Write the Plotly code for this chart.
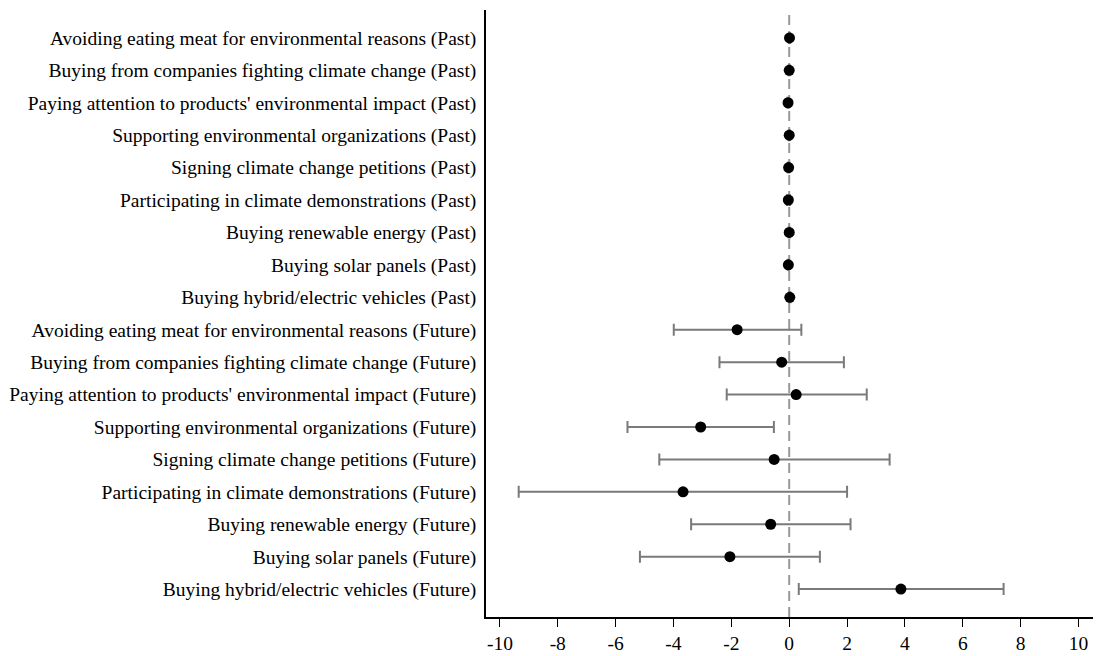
import plotly.graph_objects as go

categories = [
    "Avoiding eating meat for environmental reasons (Past)",
    "Buying from companies fighting climate change (Past)",
    "Paying attention to products' environmental impact (Past)",
    "Supporting environmental organizations (Past)",
    "Signing climate change petitions (Past)",
    "Participating in climate demonstrations (Past)",
    "Buying renewable energy (Past)",
    "Buying solar panels (Past)",
    "Buying hybrid/electric vehicles (Past)",
    "Avoiding eating meat for environmental reasons (Future)",
    "Buying from companies fighting climate change (Future)",
    "Paying attention to products' environmental impact (Future)",
    "Supporting environmental organizations (Future)",
    "Signing climate change petitions (Future)",
    "Participating in climate demonstrations (Future)",
    "Buying renewable energy (Future)",
    "Buying solar panels (Future)",
    "Buying hybrid/electric vehicles (Future)",
]
estimates = [0.01, 0.0, -0.04, 0.0, -0.02, -0.03, 0.0, -0.03, 0.02,
             -1.80, -0.26, 0.24, -3.06, -0.52, -3.67, -0.64, -2.05, 3.86]
ci_low = [-0.01, -0.02, -0.06, -0.02, -0.04, -0.08, -0.02, -0.05, 0.0,
          -3.99, -2.41, -2.16, -5.59, -4.49, -9.35, -3.39, -5.16, 0.33]
ci_high = [0.03, 0.02, -0.02, 0.02, 0.0, 0.02, 0.02, -0.01, 0.04,
           0.42, 1.89, 2.68, -0.53, 3.47, 2.00, 2.12, 1.06, 7.41]
x_ticks = [-10, -8, -6, -4, -2, 0, 2, 4, 6, 8, 10]

err_plus = [h - e for h, e in zip(ci_high, estimates)]
err_minus = [e - l for e, l in zip(estimates, ci_low)]

fig = go.Figure()
fig.add_shape(type="line", x0=0, x1=0, y0=0, y1=1, xref="x", yref="paper",
              line=dict(color="#999999", width=2, dash="10px,6px"), layer="below")
fig.add_trace(go.Scatter(
    x=estimates, y=categories, mode="markers",
    marker=dict(color="black", size=11),
    error_x=dict(type="data", symmetric=False, array=err_plus, arrayminus=err_minus,
                 color="#7a7a7a", thickness=2, width=6),
    showlegend=False,
))

fig.update_layout(
    width=1096, height=656,
    margin=dict(l=486, r=3, t=10, b=39),
    plot_bgcolor="white", paper_bgcolor="white",
    font=dict(family="Liberation Serif", size=19.5, color="black"),
)
fig.update_xaxes(range=[-10.48, 10.5], tickvals=x_ticks, ticktext=[str(v) for v in x_ticks],
                 showline=True, linecolor="black", linewidth=1.5, ticks="outside",
                 ticklen=8, tickcolor="black", showgrid=False, zeroline=False,
                 tickfont=dict(size=19.5))
fig.update_yaxes(type="category", categoryorder="array", categoryarray=categories,
                 range=[17.86, -0.86], showline=True, linecolor="black", linewidth=1.5,
                 ticks="", showgrid=False, zeroline=False, ticklabelstandoff=4,
                 tickfont=dict(size=19.5))

fig.write_html("out.html")
